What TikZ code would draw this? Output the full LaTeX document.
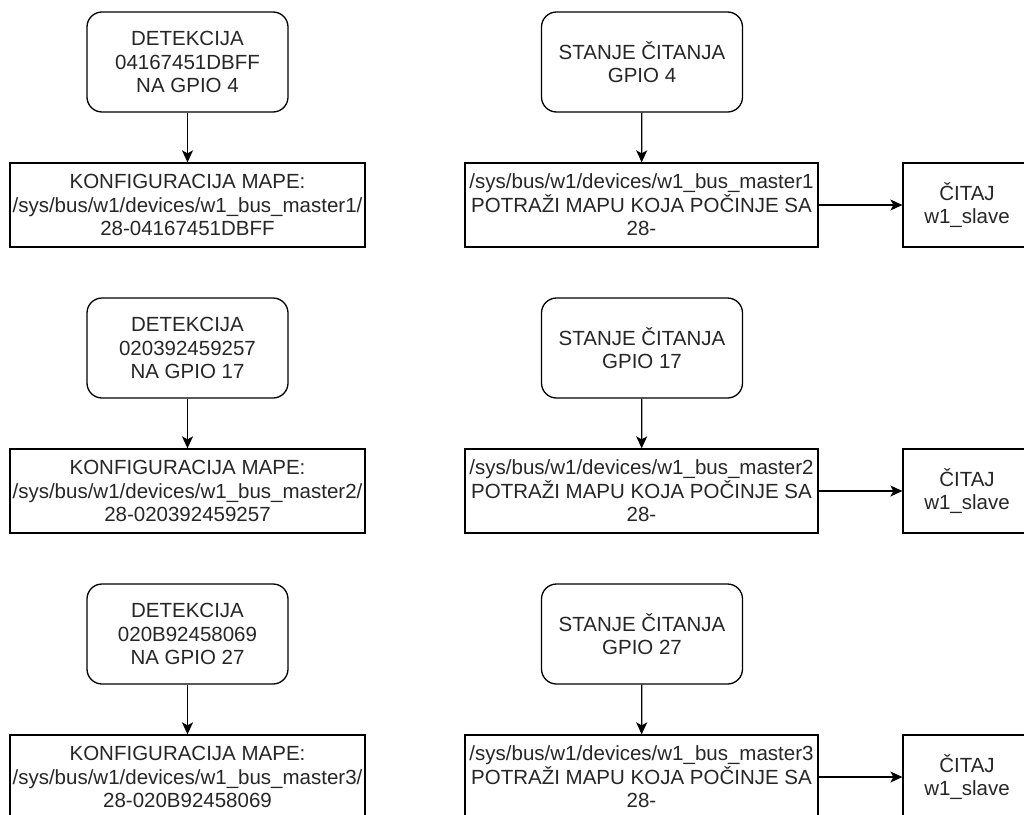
\documentclass[tikz,border=0pt]{standalone}
\usepackage{fontspec}
\setmainfont{Liberation Sans}
\usetikzlibrary{
    arrows.meta,
    positioning
}

\begin{document}
\begin{tikzpicture}[x=1pt, y=-1pt,
    every node/.style={font=\fontsize{20.5}{23.5}\selectfont, align=center, inner sep=0pt, text=black!85},
    stanjebox/.style={draw, line width=1.3pt, rounded corners=15pt, minimum width=201pt, minimum height=100pt},
    mapabox/.style={draw, line width=1.3pt, minimum height=84pt},
    veza/.style={line width=1.3pt, -{Stealth[length=12pt, width=11pt, inset=3pt]}}]
    \useasboundingbox (0,0) rectangle (1024,814);
    \clip (0,0) rectangle (1024,814);
    \foreach \r/\id/\gpio/\m in {0/04167451DBFF/4/1, 286/020392459257/17/2, 572/020B92458069/27/3}{
        % detekcija senzora
        \node[stanjebox] (det\m) at (187.5, 62+\r) {DETEKCIJA\\\id\\NA GPIO \gpio};
        \node[mapabox, minimum width=355pt] (konf\m) at (187.5, 205+\r)
            {KONFIGURACIJA MAPE:\\/sys/bus/w1/devices/w1\_bus\_master\m/\\28-\id};
        % citanje senzora
        \node[stanjebox] (stanje\m) at (642, 62+\r) {STANJE ČITANJA\\GPIO \gpio};
        \node[mapabox, minimum width=353pt] (trazi\m) at (641.5, 205+\r)
            {/sys/bus/w1/devices/w1\_bus\_master\m\\POTRAŽI MAPU KOJA POČINJE SA\\28-};
        \node[mapabox, minimum width=128pt] (citaj\m) at (967, 205+\r) {ČITAJ\\w1\_slave};
        \draw[veza] (det\m) -- (konf\m);
        \draw[veza] (stanje\m) -- (trazi\m);
        \draw[veza] (trazi\m) -- (citaj\m);
    }
\end{tikzpicture}
\end{document}
